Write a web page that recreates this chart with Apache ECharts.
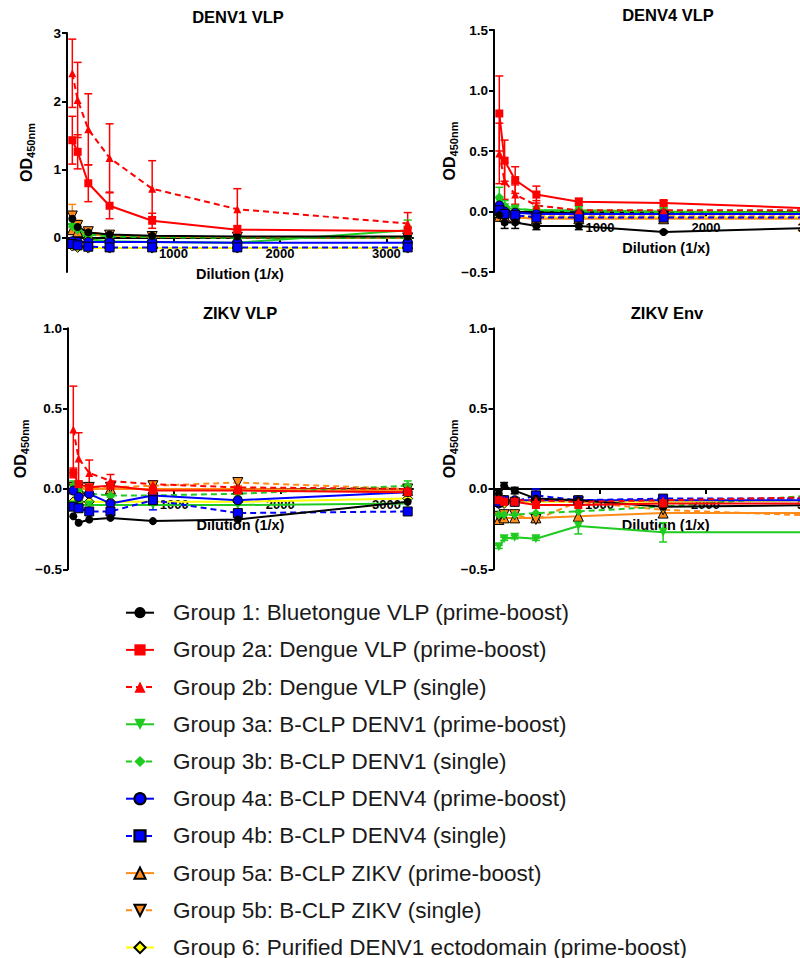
<!DOCTYPE html>
<html><head><meta charset="utf-8">
<script src="https://cdn.jsdelivr.net/npm/echarts@6/dist/echarts.min.js"></script>
<style>html,body{margin:0;padding:0;background:#fff}#c{width:800px;height:958px}</style>
</head><body><div id="c"></div>
<script>
// ---------------- DATA ----------------
const dilutions = [50, 100, 200, 400, 800, 1600, 3200];
const groupNames = [
  'Group 1: Bluetongue VLP (prime-boost)',
  'Group 2a: Dengue VLP (prime-boost)',
  'Group 2b: Dengue VLP (single)',
  'Group 3a: B-CLP DENV1 (prime-boost)',
  'Group 3b: B-CLP DENV1 (single)',
  'Group 4a: B-CLP DENV4 (prime-boost)',
  'Group 4b: B-CLP DENV4 (single)',
  'Group 5a: B-CLP ZIKV (prime-boost)',
  'Group 5b: B-CLP ZIKV (single)',
  'Group 6: Purified DENV1 ectodomain (prime-boost)'
];
const panelTitles = ['DENV1 VLP', 'DENV4 VLP', 'ZIKV VLP', 'ZIKV Env'];
const xTicks = [1000, 2000, 3000];
const yTicksDenv1 = [0, 1, 2, 3];
const yTicksDenv4 = [-0.5, 0, 0.5, 1.0, 1.5];
const yTicksZikv = [-0.5, 0, 0.5, 1.0];

// DENV1 VLP
const denv1_g1  = [0.28, 0.16, 0.08, 0.05, 0.03, 0.02, 0.02];
const denv1_g2a = [1.43, 1.26, 0.80, 0.47, 0.25, 0.12, 0.10];
const denv1_g2b = [2.41, 2.02, 1.59, 1.17, 0.72, 0.42, 0.21];
const denv1_g3a = [0.15, 0.10, -0.02, -0.05, -0.06, -0.07, 0.11];
const denv1_g3b = [0.17, 0.12, 0.05, 0.02, 0.01, 0.00, 0.00];
const denv1_g4a = [-0.05, -0.06, -0.06, -0.06, -0.06, -0.07, -0.07];
const denv1_g4b = [-0.09, -0.11, -0.13, -0.14, -0.14, -0.14, -0.14];
const denv1_g5a = [0.12, 0.09, 0.05, 0.03, 0.02, 0.01, 0.01];
const denv1_g5b = [0.32, 0.18, 0.09, 0.04, 0.02, 0.01, 0.00];
const denv1_g6  = [-0.12, -0.14, -0.15, -0.15, -0.15, -0.15, -0.15];
const denv1_err_g1  = [0.08, 0.06, 0.03, 0.02, 0.02, 0.01, 0.01];
const denv1_err_g2a = [0.35, 0.25, 0.27, 0.19, 0.11, 0.06, 0.04];
const denv1_err_g2b = [0.50, 0.55, 0.52, 0.50, 0.41, 0.30, 0.16];
const denv1_err_g3a = [0.06, 0.06, 0.03, 0.02, 0.02, 0.02, 0.15];
const denv1_err_g5b = [0.17, 0.08, 0.04, 0.02, 0.01, 0.01, 0.01];

// DENV4 VLP
const denv4_g1  = [-0.03, -0.09, -0.09, -0.12, -0.12, -0.17, -0.13];
const denv4_g2a = [0.81, 0.42, 0.26, 0.14, 0.08, 0.07, 0.02];
const denv4_g2b = [0.48, 0.25, 0.14, 0.05, 0.01, 0.01, 0.01];
const denv4_g3a = [0.08, 0.03, 0.02, 0.01, 0.01, 0.00, -0.01];
const denv4_g3b = [0.12, 0.05, 0.02, 0.01, 0.00, -0.01, -0.01];
const denv4_g4a = [0.05, 0.00, -0.01, -0.02, -0.02, -0.02, -0.02];
const denv4_g4b = [0.01, -0.02, -0.03, -0.05, -0.05, -0.05, -0.05];
const denv4_g5a = [-0.04, -0.04, -0.05, -0.06, -0.06, -0.06, -0.06];
const denv4_g5b = [-0.02, -0.03, -0.04, -0.04, -0.04, -0.04, -0.04];
const denv4_g6  = [-0.04, -0.04, -0.05, -0.05, -0.05, -0.05, -0.05];
const denv4_err_g1  = [0.04, 0.05, 0.05, 0.03, 0.03, 0.01, 0.01];
const denv4_err_g2a = [0.31, 0.17, 0.11, 0.07, 0.03, 0.02, 0.02];
const denv4_err_g2b = [0.25, 0.15, 0.08, 0.04, 0.01, 0.01, 0.01];
const denv4_err_g3b = [0.08, 0.04, 0.02, 0.01, 0.01, 0.01, 0.01];

// ZIKV VLP
const zikvVlp_g1  = [-0.17, -0.21, -0.19, -0.18, -0.20, -0.19, -0.08];
const zikvVlp_g2a = [0.10, 0.03, 0.01, 0.02, -0.01, -0.01, -0.02];
const zikvVlp_g2b = [0.37, 0.19, 0.10, 0.05, 0.03, 0.01, 0.00];
const zikvVlp_g3a = [-0.10, -0.10, -0.10, -0.10, -0.10, -0.10, -0.09];
const zikvVlp_g3b = [0.02, -0.01, -0.03, -0.04, -0.04, -0.03, 0.02];
const zikvVlp_g4a = [-0.01, -0.05, -0.03, -0.09, -0.04, -0.07, -0.02];
const zikvVlp_g4b = [-0.11, -0.12, -0.14, -0.14, -0.07, -0.15, -0.14];
const zikvVlp_g5a = [0.00, 0.00, 0.00, 0.00, 0.00, 0.00, -0.01];
const zikvVlp_g5b = [0.01, 0.01, 0.01, 0.01, 0.02, 0.04, 0.00];
const zikvVlp_g6  = [-0.08, -0.08, -0.08, -0.08, -0.08, -0.08, -0.06];
const zikvVlp_err_g2a = [0.03, 0.02, 0.02, 0.02, 0.02, 0.01, 0.01];
const zikvVlp_err_g2b = [0.27, 0.16, 0.08, 0.04, 0.02, 0.01, 0.01];
const zikvVlp_err_g3b = [0.03, 0.02, 0.01, 0.01, 0.02, 0.02, 0.03];
const zikvVlp_err_g4b = [0.01, 0.01, 0.01, 0.01, 0.06, 0.01, 0.01];
const zikvVlp_err_g5b = [0.01, 0.01, 0.01, 0.01, 0.02, 0.02, 0.01];

// ZIKV Env
const zikvEnv_g1  = [-0.03, 0.02, -0.01, -0.06, -0.07, -0.11, -0.10];
const zikvEnv_g2a = [-0.07, -0.08, -0.08, -0.10, -0.10, -0.09, -0.09];
const zikvEnv_g2b = [-0.06, -0.07, -0.07, -0.07, -0.08, -0.07, -0.05];
const zikvEnv_g3a = [-0.36, -0.31, -0.30, -0.31, -0.23, -0.27, -0.27];
const zikvEnv_g3b = [-0.16, -0.16, -0.16, -0.15, -0.14, -0.11, -0.03];
const zikvEnv_g4a = [-0.09, -0.07, -0.07, -0.07, -0.07, -0.07, -0.07];
const zikvEnv_g4b = [-0.08, -0.07, -0.08, -0.04, -0.07, -0.06, -0.06];
const zikvEnv_g5a = [-0.19, -0.18, -0.18, -0.18, -0.17, -0.15, -0.15];
const zikvEnv_g5b = [-0.17, -0.16, -0.16, -0.19, -0.08, -0.13, -0.17];
const zikvEnv_g6  = [-0.09, -0.09, -0.08, -0.08, -0.08, -0.08, -0.07];
const zikvEnv_err_g1  = [0.02, 0.02, 0.02, 0.01, 0.01, 0.01, 0.01];
const zikvEnv_err_g3a = [0.01, 0.01, 0.01, 0.01, 0.05, 0.06, 0.01];
const zikvEnv_err_g4b = [0.01, 0.01, 0.01, 0.04, 0.01, 0.01, 0.01];

// ---------------- STYLE / LAYOUT ----------------
const FONT = '"Liberation Sans", Arial, sans-serif';
const C = {black:'#000000', red:'#ff0000', green:'#1fcb1f', blue:'#0000ff', orange:'#ff8c1a', yellow:'#ffff00'};
const groupStyles = [
  {color:C.black,  symbol:'circle',   size:8},
  {color:C.red,    symbol:'rect',     size:8},
  {color:C.red,    symbol:'triangle', size:8, dashed:true},
  {color:C.green,  symbol:'triangle', size:9, rotate:180},
  {color:C.green,  symbol:'diamond',  size:9, dashed:true},
  {color:C.blue,   symbol:'circle',   size:9, border:'#000'},
  {color:C.blue,   symbol:'rect',     size:9, dashed:true, border:'#000'},
  {color:C.orange, symbol:'triangle', size:10, border:'#000'},
  {color:C.orange, symbol:'triangle', size:10, rotate:180, dashed:true, border:'#000'},
  {color:C.yellow, symbol:'diamond',  size:10, border:'#000'}
];
const drawOrder = [9, 7, 8, 3, 4, 5, 6, 0, 2, 1];

const panels = [
  {title: panelTitles[0], titlePos:[238, 17],
   values:[denv1_g1, denv1_g2a, denv1_g2b, denv1_g3a, denv1_g3b, denv1_g4a, denv1_g4b, denv1_g5a, denv1_g5b, denv1_g6],
   errors:{0:denv1_err_g1, 1:denv1_err_g2a, 2:denv1_err_g2b, 3:denv1_err_g3a, 8:denv1_err_g5b},
   yMin:-0.5, yMax:3, yTicks:yTicksDenv1, dec:0,
   grid:{left:67, top:33, width:346, height:239}, nameGap:31},
  {title: panelTitles[1], titlePos:[668, 15],
   values:[denv4_g1, denv4_g2a, denv4_g2b, denv4_g3a, denv4_g3b, denv4_g4a, denv4_g4b, denv4_g5a, denv4_g5b, denv4_g6],
   errors:{0:denv4_err_g1, 1:denv4_err_g2a, 2:denv4_err_g2b, 4:denv4_err_g3b},
   yMin:-0.5, yMax:1.5, yTicks:yTicksDenv4, dec:1,
   grid:{left:494, top:30, width:344.5, height:242}, nameGap:35},
  {title: panelTitles[2], titlePos:[240, 313],
   values:[zikvVlp_g1, zikvVlp_g2a, zikvVlp_g2b, zikvVlp_g3a, zikvVlp_g3b, zikvVlp_g4a, zikvVlp_g4b, zikvVlp_g5a, zikvVlp_g5b, zikvVlp_g6],
   errors:{1:zikvVlp_err_g2a, 2:zikvVlp_err_g2b, 4:zikvVlp_err_g3b, 6:zikvVlp_err_g4b, 8:zikvVlp_err_g5b},
   yMin:-0.5, yMax:1.0, yTicks:yTicksZikv, dec:1,
   grid:{left:68, top:328.3, width:345, height:241}, nameGap:38},
  {title: panelTitles[3], titlePos:[667, 313],
   values:[zikvEnv_g1, zikvEnv_g2a, zikvEnv_g2b, zikvEnv_g3a, zikvEnv_g3b, zikvEnv_g4a, zikvEnv_g4b, zikvEnv_g5a, zikvEnv_g5b, zikvEnv_g6],
   errors:{0:zikvEnv_err_g1, 3:zikvEnv_err_g3a, 6:zikvEnv_err_g4b},
   yMin:-0.5, yMax:1.0, yTicks:yTicksZikv, dec:1,
   grid:{left:493.5, top:328.3, width:344.5, height:241}, nameGap:34}
];

function fmtY(dec) {
  return function (v) {
    const s = Math.abs(v).toFixed(dec);
    return v < 0 ? '\u2212' + s : s;
  };
}

const grids = [], xAxes = [], yAxes = [], series = [], graphics = [];
panels.forEach(function (p, pi) {
  grids.push(Object.assign({outerBoundsMode:'none', containLabel:false}, p.grid));
  // place the whole x axis (line, ticks, labels, name) at y = 0
  const zeroOffset = -p.grid.height * (0 - p.yMin) / (p.yMax - p.yMin);
  xAxes.push({
    gridIndex: pi, type:'value', min:0, max:3250, position:'bottom', offset: zeroOffset,
    axisLine:{show:true, onZero:false, lineStyle:{color:'#000', width:2}},
    axisTick:{show:true, length:5, lineStyle:{color:'#000', width:2}, customValues:xTicks},
    axisLabel:{show:true, customValues:xTicks, formatter:function (v) { return String(v); },
      color:'#000', fontWeight:'bold', fontSize:13, margin:9, fontFamily:FONT},
    splitLine:{show:false},
    name:'Dilution (1/x)', nameLocation:'middle', nameGap:29, nameMoveOverlap:false,
    nameTextStyle:{color:'#000', fontWeight:'bold', fontSize:14.5, fontFamily:FONT}
  });
  yAxes.push({
    gridIndex: pi, type:'value', min:p.yMin, max:p.yMax,
    axisLine:{show:true, onZero:false, lineStyle:{color:'#000', width:2}},
    axisTick:{show:true, length:5, lineStyle:{color:'#000', width:2}, customValues:p.yTicks},
    axisLabel:{show:true, customValues:p.yTicks, formatter:fmtY(p.dec), color:'#000', fontWeight:'bold', fontSize:13.5, margin:6, fontFamily:FONT},
    splitLine:{show:false},
    name:'{a|OD}{b|450nm}', nameLocation:'middle', nameGap:p.nameGap, nameMoveOverlap:false,
    nameTextStyle:{color:'#000', fontWeight:'bold', fontFamily:FONT, rich:{
      a:{fontSize:16, fontWeight:'bold', color:'#000', lineHeight:20, fontFamily:FONT},
      b:{fontSize:11, fontWeight:'bold', color:'#000', lineHeight:11, verticalAlign:'bottom', fontFamily:FONT}
    }}
  });
  graphics.push({type:'text', x:p.titlePos[0], y:p.titlePos[1], z:10,
    style:{text:p.title, fill:'#000', font:'bold 16.5px ' + FONT, align:'center', verticalAlign:'middle'}});

  // error bars
  Object.keys(p.errors).forEach(function (k) {
    const gi = +k, err = p.errors[k], vals = p.values[gi], col = groupStyles[gi].color;
    series.push({
      type:'custom', xAxisIndex:pi, yAxisIndex:pi, z:2, silent:true, animation:false,
      data: dilutions.map(function (x, i) { return [x, vals[i] - err[i], vals[i] + err[i]]; }),
      encode:{x:0, y:[1, 2]},
      renderItem: function (params, api) {
        const x = api.value(0);
        const pt = api.coord([x, api.value(2)]), pb = api.coord([x, api.value(1)]);
        const w = 4, st = {stroke:col, lineWidth:1.5, fill:null};
        return {type:'group', children:[
          {type:'line', shape:{x1:pt[0], y1:pt[1], x2:pb[0], y2:pb[1]}, style:st},
          {type:'line', shape:{x1:pt[0]-w, y1:pt[1], x2:pt[0]+w, y2:pt[1]}, style:st},
          {type:'line', shape:{x1:pb[0]-w, y1:pb[1], x2:pb[0]+w, y2:pb[1]}, style:st}
        ]};
      }
    });
  });

  drawOrder.forEach(function (gi) {
    const st = groupStyles[gi];
    series.push({
      type:'line', name:groupNames[gi], xAxisIndex:pi, yAxisIndex:pi, z:3,
      data: dilutions.map(function (x, i) { return [x, p.values[gi][i]]; }),
      symbol:st.symbol, symbolSize:st.size, symbolRotate:st.rotate || 0, showAllSymbol:true,
      lineStyle:{color:st.color, width:2, type: st.dashed ? [6, 4] : 'solid'},
      itemStyle:{color:st.color, borderColor: st.border || st.color, borderWidth: st.border ? 1 : 0, opacity:1},
      emphasis:{disabled:true}, animation:false
    });
  });
});

const chart = echarts.init(document.getElementById('c'), null, {renderer:'svg', width:800, height:958});
chart.setOption({
  backgroundColor:'#ffffff',
  animation:false,
  grid: grids, xAxis: xAxes, yAxis: yAxes, series: series, graphic: graphics,
  legend:{
    data: groupNames, orient:'vertical', left:120, top:594.7, height:400,
    itemWidth:28, itemHeight:14, itemGap:11.2, selectedMode:false,
    textStyle:{fontSize:22.5, color:'#1a1a1a', fontFamily:FONT, lineHeight:26, padding:[0,0,0,14]}
  }
});
</script>
</body></html>
